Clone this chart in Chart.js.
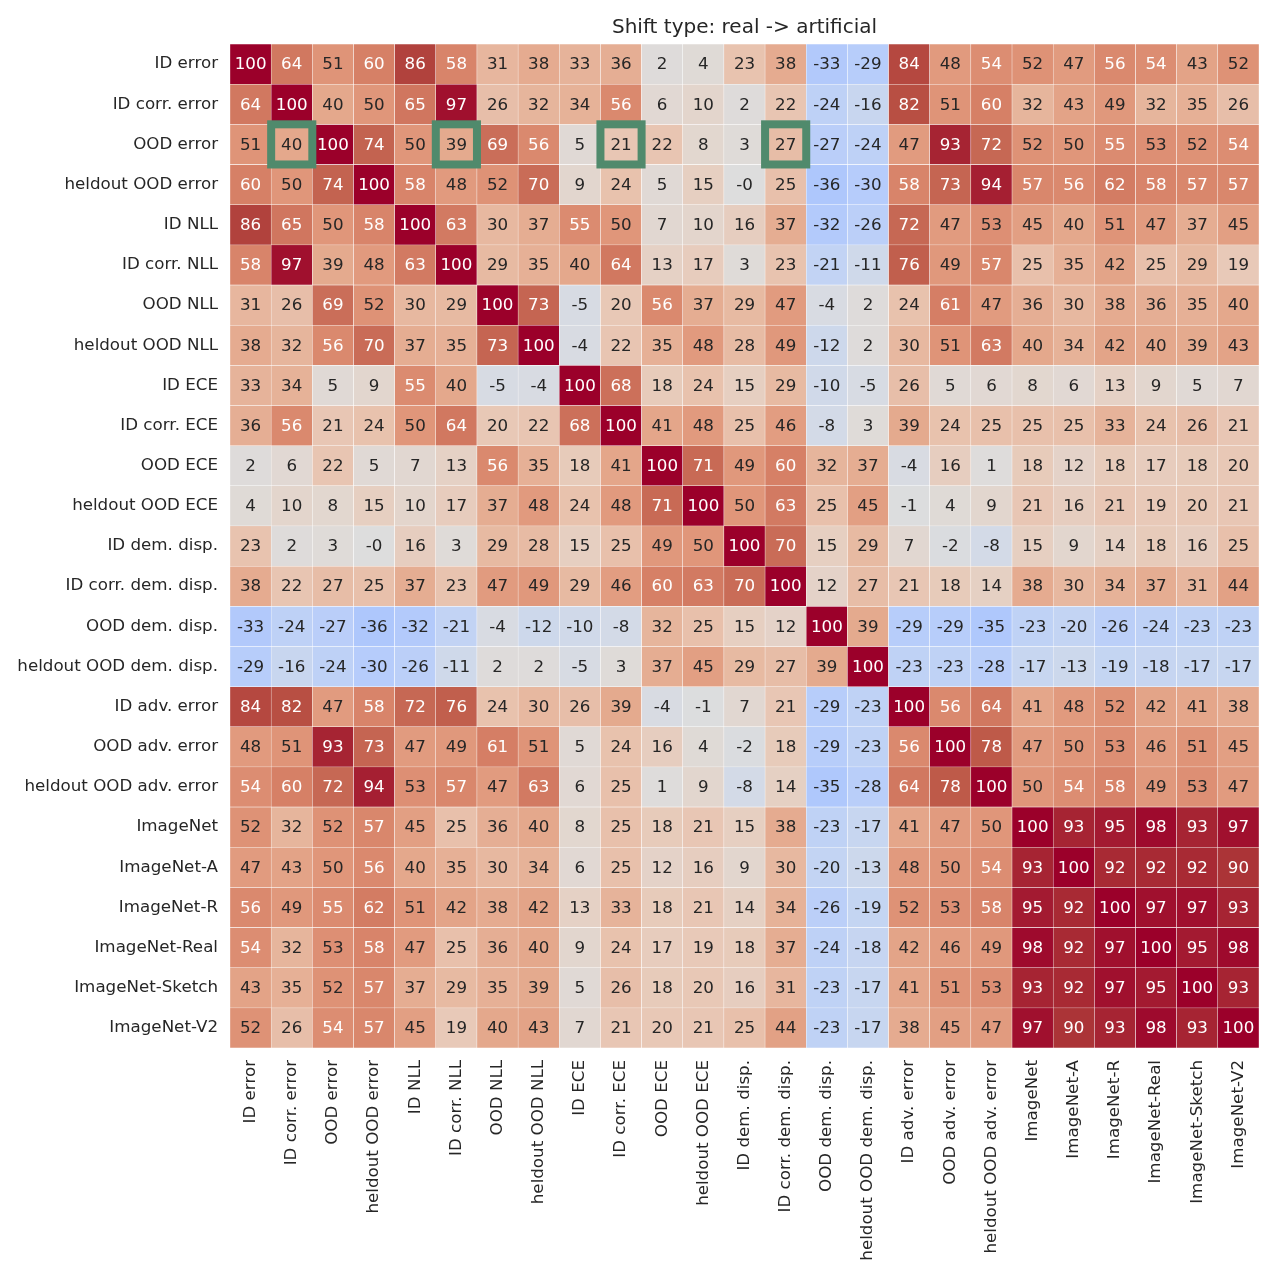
<!DOCTYPE html>
<html>
<head>
<meta charset="utf-8">
<script src="https://cdn.jsdelivr.net/npm/chart.js@4"></script>
<style>
  body { margin: 0; background: #fff; }
</style>
</head>
<body>
<canvas id="heat" width="1278" height="1278"></canvas>
<script>
// metric names, same order on both axes
const labels = ['ID error', 'ID corr. error', 'OOD error', 'heldout OOD error', 'ID NLL', 'ID corr. NLL',
  'OOD NLL', 'heldout OOD NLL', 'ID ECE', 'ID corr. ECE', 'OOD ECE', 'heldout OOD ECE',
  'ID dem. disp.', 'ID corr. dem. disp.', 'OOD dem. disp.', 'heldout OOD dem. disp.',
  'ID adv. error', 'OOD adv. error', 'heldout OOD adv. error',
  'ImageNet', 'ImageNet-A', 'ImageNet-R', 'ImageNet-Real', 'ImageNet-Sketch', 'ImageNet-V2'];

// one row of correlations (x100) per metric
const idError        = [100, 64, 51, 60, 86, 58, 31, 38, 33, 36, 2, 4, 23, 38, -33, -29, 84, 48, 54, 52, 47, 56, 54, 43, 52];
const idCorrError    = [64, 100, 40, 50, 65, 97, 26, 32, 34, 56, 6, 10, 2, 22, -24, -16, 82, 51, 60, 32, 43, 49, 32, 35, 26];
const oodError       = [51, 40, 100, 74, 50, 39, 69, 56, 5, 21, 22, 8, 3, 27, -27, -24, 47, 93, 72, 52, 50, 55, 53, 52, 54];
const heldoutError   = [60, 50, 74, 100, 58, 48, 52, 70, 9, 24, 5, 15, -0.2, 25, -36, -30, 58, 73, 94, 57, 56, 62, 58, 57, 57];
const idNll          = [86, 65, 50, 58, 100, 63, 30, 37, 55, 50, 7, 10, 16, 37, -32, -26, 72, 47, 53, 45, 40, 51, 47, 37, 45];
const idCorrNll      = [58, 97, 39, 48, 63, 100, 29, 35, 40, 64, 13, 17, 3, 23, -21, -11, 76, 49, 57, 25, 35, 42, 25, 29, 19];
const oodNll         = [31, 26, 69, 52, 30, 29, 100, 73, -5, 20, 56, 37, 29, 47, -4, 2, 24, 61, 47, 36, 30, 38, 36, 35, 40];
const heldoutNll     = [38, 32, 56, 70, 37, 35, 73, 100, -4, 22, 35, 48, 28, 49, -12, 2, 30, 51, 63, 40, 34, 42, 40, 39, 43];
const idEce          = [33, 34, 5, 9, 55, 40, -5, -4, 100, 68, 18, 24, 15, 29, -10, -5, 26, 5, 6, 8, 6, 13, 9, 5, 7];
const idCorrEce      = [36, 56, 21, 24, 50, 64, 20, 22, 68, 100, 41, 48, 25, 46, -8, 3, 39, 24, 25, 25, 25, 33, 24, 26, 21];
const oodEce         = [2, 6, 22, 5, 7, 13, 56, 35, 18, 41, 100, 71, 49, 60, 32, 37, -4, 16, 1, 18, 12, 18, 17, 18, 20];
const heldoutEce     = [4, 10, 8, 15, 10, 17, 37, 48, 24, 48, 71, 100, 50, 63, 25, 45, -1, 4, 9, 21, 16, 21, 19, 20, 21];
const idDemDisp      = [23, 2, 3, -0.2, 16, 3, 29, 28, 15, 25, 49, 50, 100, 70, 15, 29, 7, -2, -8, 15, 9, 14, 18, 16, 25];
const idCorrDemDisp  = [38, 22, 27, 25, 37, 23, 47, 49, 29, 46, 60, 63, 70, 100, 12, 27, 21, 18, 14, 38, 30, 34, 37, 31, 44];
const oodDemDisp     = [-33, -24, -27, -36, -32, -21, -4, -12, -10, -8, 32, 25, 15, 12, 100, 39, -29, -29, -35, -23, -20, -26, -24, -23, -23];
const heldoutDemDisp = [-29, -16, -24, -30, -26, -11, 2, 2, -5, 3, 37, 45, 29, 27, 39, 100, -23, -23, -28, -17, -13, -19, -18, -17, -17];
const idAdvError     = [84, 82, 47, 58, 72, 76, 24, 30, 26, 39, -4, -1, 7, 21, -29, -23, 100, 56, 64, 41, 48, 52, 42, 41, 38];
const oodAdvError    = [48, 51, 93, 73, 47, 49, 61, 51, 5, 24, 16, 4, -2, 18, -29, -23, 56, 100, 78, 47, 50, 53, 46, 51, 45];
const heldoutAdvErr  = [54, 60, 72, 94, 53, 57, 47, 63, 6, 25, 1, 9, -8, 14, -35, -28, 64, 78, 100, 50, 54, 58, 49, 53, 47];
const imagenet       = [52, 32, 52, 57, 45, 25, 36, 40, 8, 25, 18, 21, 15, 38, -23, -17, 41, 47, 50, 100, 93, 95, 98, 93, 97];
const imagenetA      = [47, 43, 50, 56, 40, 35, 30, 34, 6, 25, 12, 16, 9, 30, -20, -13, 48, 50, 54, 93, 100, 92, 92, 92, 90];
const imagenetR      = [56, 49, 55, 62, 51, 42, 38, 42, 13, 33, 18, 21, 14, 34, -26, -19, 52, 53, 58, 95, 92, 100, 97, 97, 93];
const imagenetReal   = [54, 32, 53, 58, 47, 25, 36, 40, 9, 24, 17, 19, 18, 37, -24, -18, 42, 46, 49, 98, 92, 97, 100, 95, 98];
const imagenetSketch = [43, 35, 52, 57, 37, 29, 35, 39, 5, 26, 18, 20, 16, 31, -23, -17, 41, 51, 53, 93, 92, 97, 95, 100, 93];
const imagenetV2     = [52, 26, 54, 57, 45, 19, 40, 43, 7, 21, 20, 21, 25, 44, -23, -17, 38, 45, 47, 97, 90, 93, 98, 93, 100];

const rows = [idError, idCorrError, oodError, heldoutError, idNll, idCorrNll, oodNll, heldoutNll,
  idEce, idCorrEce, oodEce, heldoutEce, idDemDisp, idCorrDemDisp, oodDemDisp, heldoutDemDisp,
  idAdvError, oodAdvError, heldoutAdvErr, imagenet, imagenetA, imagenetR, imagenetReal, imagenetSketch, imagenetV2];

// boxed cells [row, col]
const highlighted = [[2, 1], [2, 5], [2, 9], [2, 13]];

// cell fill (value, rgb)
const fillStops = [
  [-40, [168, 195, 252]], [-30, [182, 204, 251]], [-20, [195, 212, 243]], [-10, [208, 217, 233]],
  [0, [221, 221, 221]], [10, [227, 213, 204]], [20, [232, 200, 182]], [30, [231, 184, 160]],
  [40, [228, 168, 140]], [50, [224, 150, 122]], [60, [214, 128, 102]], [70, [201, 108, 87]],
  [80, [187, 86, 70]], [90, [171, 52, 55]], [100, [155, 0, 42]]
];

// coolwarm (Moreland), 33 stops - only used for the text colour rule
const coolwarm = [
  [59,76,192],[68,90,204],[77,104,215],[87,117,225],[98,130,234],[108,142,241],[119,154,247],[130,165,251],
  [141,176,254],[152,185,255],[163,194,255],[174,201,253],[184,208,249],[194,213,244],[204,217,238],[213,219,230],
  [221,221,221],[229,216,209],[236,211,197],[241,204,184],[245,196,172],[247,187,160],[247,177,148],[247,166,135],
  [244,154,123],[241,141,111],[236,127,99],[229,112,88],[222,96,77],[213,80,66],[203,62,56],[192,40,47],[180,4,38]
];

function fillColor(v) {
  let i = 0;
  while (i < fillStops.length - 2 && v > fillStops[i + 1][0]) i++;
  const [v0, c0] = fillStops[i];
  const [v1, c1] = fillStops[i + 1];
  const f = Math.min(1, Math.max(0, (v - v0) / (v1 - v0)));
  return c0.map((c, k) => c + (c1[k] - c) * f);
}

function coolwarmColor(v) {
  let t = Math.min(1, Math.max(0, (v + 100) / 200));
  const p = t * (coolwarm.length - 1);
  const i = Math.min(coolwarm.length - 2, Math.floor(p));
  const f = p - i;
  return coolwarm[i].map((c, k) => c + (coolwarm[i + 1][k] - c) * f);
}

function rgb(c) {
  return 'rgb(' + c.map(Math.round).join(',') + ')';
}

// seaborn's rule for the annotation colour
function luminance(c) {
  const lin = c.map(x => {
    x = x / 255;
    return x <= 0.03928 ? x / 12.92 : Math.pow((x + 0.055) / 1.055, 2.4);
  });
  return 0.2126 * lin[0] + 0.7152 * lin[1] + 0.0722 * lin[2];
}

const datasets = rows.map((row, r) => ({
  label: labels[r],
  data: row.map(() => [r, r + 1]),
  backgroundColor: ctx => rgb(fillColor(rows[ctx.datasetIndex][ctx.dataIndex])),
  borderColor: '#ffffff',
  borderWidth: 0.5,
  borderSkipped: false,
  barPercentage: 1,
  categoryPercentage: 1,
  grouped: false
}));

const annotate = {
  id: 'annotate',
  afterDatasetsDraw(chart) {
    const ctx = chart.ctx;
    ctx.save();
    ctx.font = '16.7px "DejaVu Sans"';
    ctx.textAlign = 'center';
    ctx.textBaseline = 'middle';
    rows.forEach((row, r) => {
      const meta = chart.getDatasetMeta(r);
      meta.data.forEach((bar, c) => {
        const v = row[c];
        ctx.fillStyle = luminance(coolwarmColor(v)) > 0.408 ? '#262626' : '#ffffff';
        ctx.fillText(v.toFixed(0), bar.x, (bar.y + bar.base) / 2 + 1);
      });
    });
    // green boxes
    ctx.strokeStyle = '#508a6c';
    ctx.lineWidth = 8;
    highlighted.forEach(([r, c]) => {
      const bar = chart.getDatasetMeta(r).data[c];
      const top = Math.min(bar.y, bar.base);
      ctx.strokeRect(bar.x - bar.width / 2, top, bar.width, Math.abs(bar.base - bar.y));
    });
    ctx.restore();
  }
};

Chart.defaults.font.family = '"DejaVu Sans"';
Chart.defaults.color = '#262626';

new Chart(document.getElementById('heat'), {
  type: 'bar',
  data: { labels: labels, datasets: datasets },
  options: {
    responsive: false,
    animation: false,
    devicePixelRatio: 1,
    layout: { padding: { left: 0, right: 19, top: 0, bottom: 0 } },
    plugins: {
      legend: { display: false },
      tooltip: { enabled: false },
      title: {
        display: true,
        text: 'Shift type: real -> artificial',
        fullSize: false,
        color: '#262626',
        font: { size: 20, weight: 'normal' },
        padding: { top: 16, bottom: 4 }
      }
    },
    scales: {
      x: {
        type: 'category',
        grid: { display: false, drawTicks: false },
        border: { display: false },
        ticks: {
          autoSkip: false,
          maxRotation: 90,
          minRotation: 90,
          padding: 12,
          font: { size: 16.7 },
          color: '#262626'
        },
        afterFit: s => { s.height = 230; }
      },
      y: {
        type: 'linear',
        min: 0,
        max: 25,
        reverse: true,
        grid: { display: false, drawTicks: false },
        border: { display: false },
        afterBuildTicks: s => { s.ticks = labels.map((l, i) => ({ value: i + 0.5 })); },
        ticks: {
          autoSkip: false,
          padding: 12,
          font: { size: 16.7 },
          color: '#262626',
          callback: (v, i) => labels[i]
        },
        afterFit: s => { s.width = 230; }
      }
    }
  },
  plugins: [annotate]
});
</script>
</body>
</html>
